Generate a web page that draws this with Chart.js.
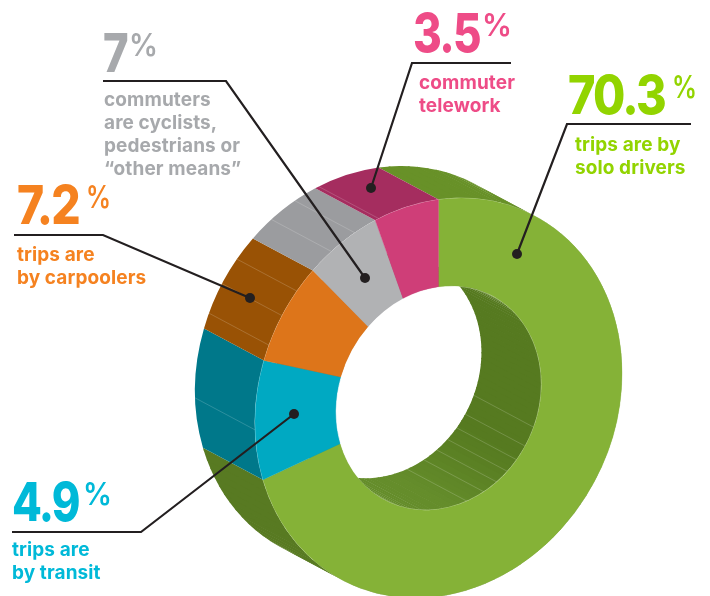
<!DOCTYPE html>
<html>
<head>
<meta charset="utf-8">
<style>
  html, body { margin: 0; padding: 0; background: #fff; overflow: hidden; }
  canvas { display: block; }
</style>
</head>
<body>
<canvas id="myChart" width="710" height="596"></canvas>
<script src="https://cdn.jsdelivr.net/npm/chart.js@4/dist/chart.umd.js"></script>
<script>
// what the slices stand for, and how big each one is drawn in the picture
var categories = ['solo drivers', 'transit', 'carpoolers', 'cyclists, pedestrians, other', 'telework'];
var sliceShares = [70.3, 9.7, 8.0, 6.4, 5.6];

// the printed figures (they do not add up with the drawn slices)
var printedPercents = ['70.3', '4.9', '7.2', '7', '3.5'];

// colours
var faceColors = ['#85b237', '#00a9c2', '#dd751a', '#b1b2b4', '#cf3e78'];
var wallColors = ['#689128', '#00788a', '#995205', '#9b9c9f', '#a52d5f'];
var textColors = ['#92d400', '#00b9d8', '#f58220', '#a7a9ac', '#ee4c87'];

// seams on the walls, degrees clockwise from 12 o'clock
var outerSeams = [268, 292.5, 301.5, 309.5, 324.3, 332.9, 341];
var innerSeams = [112.3, 122.6, 130.6, 138, 145.6, 153.9, 164];

// the round doughnut is sheared onto the page with these
var face = { cx: 438.5, cy: 398, a: 183.5, b: -25, d: 198.4 };
var depth = { x: -60, y: -32 };

var callouts = [
  { x: 568, y: 114, w: 97, pct: 672, pctW: 25, lines: ['trips are by', 'solo drivers'], tx: 575, ty: 151, path: [[691,124],[567,124],[517,254]] },
  { x: 12, y: 521, w: 67, pct: 83, pctW: 29, lines: ['trips are', 'by transit'], tx: 12, ty: 556, path: [[12,532],[141,532],[294,414]] },
  { x: 17, y: 224, w: 62, pct: 86, pctW: 25, lines: ['trips are', 'by carpoolers'], tx: 17, ty: 261, path: [[14,235],[103,235],[250,298]] },
  { x: 103, y: 72, w: 24, pct: 129, pctW: 29, lines: ['commuters', 'are cyclists,', 'pedestrians or', '\u201cother means\u201d'], tx: 104, ty: 106, path: [[103,81],[226,81],[365,278]] },
  { x: 413, y: 52, w: 67, pct: 482, pctW: 30, lines: ['commuter', 'telework'], tx: 419, ty: 89, path: [[511,63],[412,63],[371,188]] }
];

function setFace(ctx, arc, ox, oy) {
  var R = arc.outerRadius;
  var sx = face.a / R, sk = face.b / R, sy = face.d / R;
  ctx.setTransform(sx, sk, 0, sy,
    face.cx + ox - sx * arc.x,
    face.cy + oy - sk * arc.x - sy * arc.y);
}

function mix(c1, c2, t) {
  var p = function (c, i) { return parseInt(c.substr(1 + i * 2, 2), 16); };
  var out = [0, 1, 2].map(function (i) { return Math.round(p(c1, i) + (p(c2, i) - p(c1, i)) * t); });
  return 'rgb(' + out.join(',') + ')';
}

// one band of wall, from the front rim back along the depth
function sweep(ctx, arc, r, s, e, color) {
  ctx.beginPath();
  setFace(ctx, arc, 0, 0);
  ctx.arc(arc.x, arc.y, r, s, e);
  setFace(ctx, arc, depth.x, depth.y);
  ctx.arc(arc.x, arc.y, r, e, s, true);
  ctx.closePath();
  ctx.fillStyle = color;
  ctx.fill();
}

function seam(ctx, arc, r, deg) {
  var t = deg * Math.PI / 180;
  var x = arc.x + r * Math.sin(t), y = arc.y - r * Math.cos(t);
  ctx.beginPath();
  setFace(ctx, arc, 0, 0);
  ctx.moveTo(x, y);
  setFace(ctx, arc, depth.x, depth.y);
  ctx.lineTo(x, y);
  ctx.setTransform(1, 0, 0, 1, 0, 0);
  ctx.strokeStyle = 'rgba(255,255,255,0.25)';
  ctx.lineWidth = 0.7;
  ctx.stroke();
}

var wallsPlugin = {
  id: 'walls',
  beforeDatasetsDraw: function (chart) {
    var ctx = chart.ctx;
    var arcs = chart.getDatasetMeta(0).data;
    var top = -Math.PI / 2, deg = Math.PI / 180;
    ctx.save();

    // green first so the other walls sit on top of its edges
    var green = arcs[0];
    var span = (green.endAngle - green.startAngle) / deg;
    for (var a = 0; a < span; a += 3) {
      var s2 = top + a * deg;
      // a little overlap, otherwise the facets leave white hairlines
      var e2 = Math.min(green.endAngle, s2 + 3.6 * deg);
      sweep(ctx, green, green.outerRadius, s2, e2, a < 120 ? '#689128' : '#587a22');
      var t = Math.max(0, Math.min(1, (a - 125) / 45));
      sweep(ctx, green, green.innerRadius, s2, e2, mix('#567a20', '#658d2b', t));
    }
    arcs.slice(1).forEach(function (arc, i) {
      sweep(ctx, arc, arc.outerRadius, arc.startAngle, arc.endAngle, wallColors[i + 1]);
      sweep(ctx, arc, arc.innerRadius, arc.startAngle, arc.endAngle, wallColors[i + 1]);
    });

    outerSeams.forEach(function (d) { seam(ctx, green, green.outerRadius, d); });
    innerSeams.forEach(function (d) { seam(ctx, green, green.innerRadius, d); });

    // pale hairline where the face meets the walls
    setFace(ctx, green, 0, 0);
    ctx.strokeStyle = 'rgba(255,255,255,0.45)';
    ctx.lineWidth = 1.5;
    [green.outerRadius, green.innerRadius].forEach(function (r) {
      ctx.beginPath();
      ctx.arc(green.x, green.y, r, 0, Math.PI * 2);
      ctx.stroke();
    });

    ctx.restore();

    // the face itself is drawn by the chart, under the same shear
    ctx.save();
    setFace(ctx, green, 0, 0);
  },
  afterDatasetsDraw: function (chart) {
    chart.ctx.restore();
  },
  afterDraw: function (chart) {
    var ctx = chart.ctx;
    ctx.save();
    callouts.forEach(function (c, i) {
      ctx.strokeStyle = '#231f20';
      ctx.lineWidth = 2.2;
      ctx.lineJoin = 'miter';
      ctx.beginPath();
      c.path.forEach(function (p, k) {
        if (k === 0) ctx.moveTo(p[0], p[1]); else ctx.lineTo(p[0], p[1]);
      });
      ctx.stroke();
      var end = c.path[c.path.length - 1];
      ctx.fillStyle = '#231f20';
      ctx.beginPath();
      ctx.arc(end[0], end[1], 5, 0, Math.PI * 2);
      ctx.fill();

      ctx.fillStyle = textColors[i];
      ctx.textBaseline = 'alphabetic';
      ctx.font = '800 54px Inter';
      ctx.letterSpacing = '-2px';
      ctx.fillText(printedPercents[i], c.x, c.y, c.w);
      ctx.font = '600 31px Inter';
      ctx.letterSpacing = '0px';
      ctx.fillText('%', c.pct, c.y - 16, c.pctW);
      ctx.font = '700 19px Inter';
      ctx.letterSpacing = '0.1px';
      c.lines.forEach(function (l, k) {
        ctx.fillText(l, c.tx, c.ty + k * 23);
      });
    });
    ctx.restore();
  }
};

new Chart(document.getElementById('myChart'), {
  type: 'doughnut',
  data: {
    labels: categories,
    datasets: [{
      data: sliceShares,
      backgroundColor: faceColors,
      borderColor: faceColors,
      borderWidth: 0.5,
      clip: false
    }]
  },
  options: {
    responsive: false,
    animation: false,
    cutout: '56.1%',
    plugins: { legend: { display: false }, tooltip: { enabled: false } }
  },
  plugins: [wallsPlugin]
});
</script>
</body>
</html>
